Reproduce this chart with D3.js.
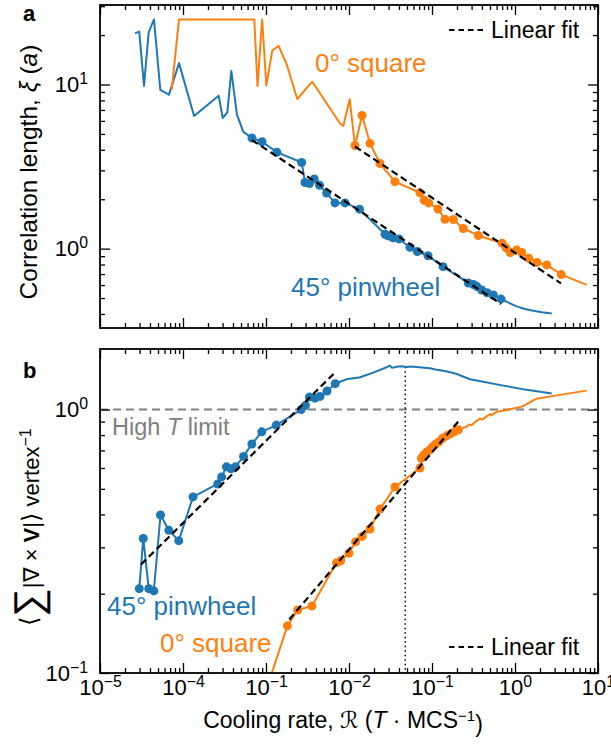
<!DOCTYPE html>
<html>
<head>
<meta charset="utf-8">
<script src="https://cdn.jsdelivr.net/npm/d3@7"></script>
<style>
  body { margin: 0; background: #fff; }
  text { font-family: "Liberation Sans", Arial, Helvetica, sans-serif; }
</style>
</head>
<body>
<div id="chart"></div>
<script>
// ---- data ----
// x axis ticks (the third label really reads 10^-1 in the original)
var xMajor = [1e-5, 1e-4, 1e-3, 1e-2, 1e-1, 1e0, 1e1];
var xTickExp = ["\u22125", "\u22124", "\u22121", "\u22122", "\u22121", "0", "1"];

// panel a: correlation length
var blueXiHead = [[2.64e-5, 20.5], [2.97e-5, 21.0], [3.39e-5, 9.8], [3.86e-5, 20.8], [4.47e-5, 24.9],
  [5.33e-5, 9.26], [6.78e-5, 8.67], [8.95e-5, 13.5], [1.36e-4, 6.43], [2.69e-4, 8.55], [3.01e-4, 6.25],
  [3.42e-4, 6.77], [3.82e-4, 12.1], [4.47e-4, 6.55], [5.33e-4, 5.14]];
var blueXiPts = [[6.78e-4, 4.72], [8.95e-4, 4.48], [1.35e-3, 3.87], [2.69e-3, 3.35], [2.95e-3, 2.53],
  [3.34e-3, 2.49], [3.82e-3, 2.66], [4.42e-3, 2.43], [5.38e-3, 2.18], [6.78e-3, 1.90], [8.95e-3, 1.90],
  [0.0134, 1.74], [0.0272, 1.224], [0.0295, 1.195], [0.0339, 1.162], [0.040, 1.146], [0.0543, 1.02],
  [0.0665, 0.961], [0.0895, 0.905], [0.136, 0.777], [0.2735, 0.618], [0.316, 0.605], [0.348, 0.587],
  [0.397, 0.560], [0.461, 0.539], [0.548, 0.522], [0.678, 0.494]];
var blueXiTail = [[0.871, 0.464], [1.05, 0.445], [1.32, 0.429], [1.66, 0.419], [2.11, 0.410], [2.77, 0.403]];
var blueXiFit = [[6.78e-4, 4.59], [0.678, 0.460]];

var orangeXiHead = [[7.31e-5, 9.26], [8.95e-5, 24.9], [7.23e-4, 24.9], [7.90e-4, 9.79], [8.99e-4, 24.9],
  [1.01e-3, 9.86], [1.19e-3, 16.1], [1.42e-3, 17.2], [1.79e-3, 13.1], [2.38e-3, 8.16], [3.61e-3, 10.4],
  [7.80e-3, 5.79], [8.53e-3, 5.59], [0.0102, 8.13]];
var orangeXiPts = [[0.0118, 4.25], [0.01436, 6.47], [0.0179, 4.38], [0.0236, 3.30], [0.0358, 2.56],
  [0.0716, 2.19], [0.0805, 1.97], [0.0912, 1.90], [0.118, 1.745], [0.1435, 1.51], [0.181, 1.506],
  [0.238, 1.327], [0.361, 1.203], [0.702, 1.079], [0.780, 1.01], [0.877, 0.948], [1.048, 0.982],
  [1.205, 0.948], [1.462, 0.874], [1.841, 0.824], [2.41, 0.796], [3.61, 0.695]];
var orangeXiTail = [[7.31, 0.601]];
var orangeXiFit = [[0.0118, 4.19], [3.58, 0.614]];

// panel b: vorticity per vertex
var blueVPts = [[2.97e-5, 0.209], [3.32e-5, 0.324], [3.87e-5, 0.209], [4.45e-5, 0.205], [5.36e-5, 0.398],
  [6.75e-5, 0.348], [8.89e-5, 0.318], [1.32e-4, 0.466], [2.62e-4, 0.522], [2.92e-4, 0.555],
  [3.34e-4, 0.606], [3.78e-4, 0.596], [4.29e-4, 0.606], [5.36e-4, 0.664], [6.75e-4, 0.740],
  [8.89e-4, 0.823], [1.33e-3, 0.873], [2.65e-3, 1.0], [2.99e-3, 1.037], [3.33e-3, 1.115],
  [3.89e-3, 1.105], [4.48e-3, 1.122], [5.43e-3, 1.175], [6.83e-3, 1.254]];
var blueVTail = [[9.37e-3, 1.304], [0.0136, 1.327], [0.0196, 1.381], [0.0284, 1.447], [0.031, 1.47],
  [0.033, 1.44], [0.0376, 1.455], [0.043, 1.46], [0.0495, 1.452], [0.056, 1.458], [0.0655, 1.452],
  [0.075, 1.445], [0.0946, 1.435], [0.11, 1.42], [0.1368, 1.405], [0.16, 1.39], [0.1987, 1.365],
  [0.287, 1.304], [0.415, 1.276], [0.723, 1.233], [1.383, 1.188], [2.77, 1.15]];
var blueVFit = [[3.12e-5, 0.258], [6.65e-3, 1.374]];

var orangeVHead = [[1.15e-3, 0.098]];
var orangeVPts = [[1.81e-3, 0.151], [2.41e-3, 0.1735], [3.58e-3, 0.1797], [7.06e-3, 0.262], [7.94e-3, 0.2665],
  [0.01, 0.285], [0.012, 0.3147], [0.0144, 0.330], [0.0179, 0.352], [0.0236, 0.419], [0.0358, 0.508],
  [0.0716, 0.600], [0.0746, 0.654], [0.0802, 0.674], [0.0871, 0.692], [0.0946, 0.704], [0.1014, 0.722],
  [0.110, 0.738], [0.1213, 0.755], [0.134, 0.778], [0.1496, 0.795], [0.167, 0.809], [0.1866, 0.823],
  [0.2075, 0.838]];
var orangeVTail = [[0.235, 0.85], [0.262, 0.862], [0.28, 0.878], [0.30, 0.872], [0.346, 0.908],
  [0.38, 0.925], [0.40, 0.915], [0.456, 0.942], [0.50, 0.962], [0.52, 0.952], [0.603, 0.980],
  [0.70, 0.99], [0.794, 0.997], [1.214, 1.026], [1.824, 1.10], [3.18, 1.132], [7.31, 1.18]];
var orangeVFit = [[1.91e-3, 0.1597], [0.2075, 0.901]];

var highTLimit = 1.0;
var peakRate = 0.0476;
var peakValue = 1.455;

// ---- layout ----
var svgWidth = 611;
var svgHeight = 744;
var left = 100;
var width = 498;
var topA = 5, heightA = 323;
var topB = 349, heightB = 324;

var blue = "#1f77b4";
var orange = "#ff7f0e";

var svg = d3.select("#chart")
  .append("svg")
  .attr("width", svgWidth)
  .attr("height", svgHeight);

var x = d3.scaleLog().domain([1e-5, 10]).range([0, width]);
var yA = d3.scaleLog().domain([0.3285, 30.5]).range([heightA, 0]);
var yB = d3.scaleLog().domain([0.1, 1.698]).range([heightB, 0]);

function minorTicks(lo, hi) {
  var out = [];
  for (var e = Math.floor(Math.log10(lo)); e <= Math.ceil(Math.log10(hi)); e++) {
    for (var m = 2; m <= 9; m++) {
      var v = m * Math.pow(10, e);
      if (v >= lo && v <= hi) out.push(v);
    }
  }
  return out;
}

// "10" with a superscript exponent
function supText(ag, exps) {
  ag.attr("font-size", 22)
    .attr("font-family", "'Liberation Sans', Arial, sans-serif");
  ag.selectAll(".tick text").each(function(d, i) {
    var t = d3.select(this).text(null).attr("fill", "#000");
    t.append("tspan").text("10");
    t.append("tspan").attr("dy", "-0.5em").attr("font-size", "0.72em").text(exps[i]);
  });
}

function drawAxes(g, y, h, yMajor, yExp, showX) {
  var xMinor = minorTicks(1e-5, 10);
  var yMinor = minorTicks(y.domain()[0], y.domain()[1]);
  var axes = [
    [d3.axisBottom(x), "translate(0," + h + ")", xMajor, xMinor, showX ? xTickExp : null, 6],
    [d3.axisTop(x), null, xMajor, xMinor, null, 0],
    [d3.axisLeft(y), null, yMajor, yMinor, yExp, 12],
    [d3.axisRight(y), "translate(" + width + ",0)", yMajor, yMinor, null, 0]
  ];
  axes.forEach(function(a) {
    // minor ticks, inward
    var mg = g.append("g")
      .attr("transform", a[1])
      .call(a[0].tickValues(a[3]).tickSize(-5).tickSizeOuter(0).tickFormat(""));
    mg.select(".domain").remove();
    mg.selectAll(".tick line").attr("stroke-width", 1.3);

    // major ticks, inward, labels where needed
    var fmt = a[4] ? (d => d) : "";
    var ag = g.append("g")
      .attr("transform", a[1])
      .call(a[0].tickValues(a[2]).tickSize(-10).tickSizeOuter(0).tickPadding(a[5]).tickFormat(fmt));
    ag.select(".domain").remove();
    ag.selectAll(".tick line").attr("stroke-width", 1.3);
    if (a[4]) supText(ag, a[4]);
  });
  g.append("rect")
    .attr("width", width)
    .attr("height", h)
    .attr("fill", "none")
    .attr("stroke", "#000")
    .attr("stroke-width", 1.8);
}

function drawSeries(g, y, line, pts, color, clipId) {
  var lineGen = d3.line().x(d => x(d[0])).y(d => y(d[1]));
  g.append("path")
    .attr("clip-path", "url(#" + clipId + ")")
    .attr("d", lineGen(line))
    .attr("fill", "none")
    .attr("stroke", color)
    .attr("stroke-width", 2)
    .attr("stroke-linejoin", "round");
  g.selectAll(null)
    .data(pts)
    .enter()
    .append("circle")
    .attr("cx", d => x(d[0]))
    .attr("cy", d => y(d[1]))
    .attr("r", 4.5)
    .attr("fill", color);
}

function drawFit(g, y, fit) {
  g.append("line")
    .attr("x1", x(fit[0][0])).attr("y1", y(fit[0][1]))
    .attr("x2", x(fit[1][0])).attr("y2", y(fit[1][1]))
    .attr("stroke", "#000")
    .attr("stroke-width", 2.2)
    .attr("stroke-dasharray", "7,4");
}

function legendFit(g, ly) {
  g.append("line")
    .attr("x1", 349).attr("x2", 383)
    .attr("y1", ly).attr("y2", ly)
    .attr("stroke", "#000").attr("stroke-width", 2)
    .attr("stroke-dasharray", "5.5,4");
  g.append("text")
    .attr("x", 391).attr("y", ly + 8)
    .attr("font-size", 23)
    .text("Linear fit");
}

function label(g, tx, ty, txt, color) {
  g.append("text")
    .attr("x", tx).attr("y", ty)
    .attr("font-size", 26)
    .attr("fill", color)
    .text(txt);
}

// ---- panel a ----
var gA = svg.append("g").attr("transform", `translate(${left}, ${topA})`);
gA.append("clipPath").attr("id", "clipA").append("rect").attr("width", width).attr("height", heightA);

drawSeries(gA, yA, blueXiHead.concat(blueXiPts, blueXiTail), blueXiPts, blue, "clipA");
drawSeries(gA, yA, orangeXiHead.concat(orangeXiPts, orangeXiTail), orangeXiPts, orange, "clipA");
drawFit(gA, yA, blueXiFit);
drawFit(gA, yA, orangeXiFit);
drawAxes(gA, yA, heightA, [1, 10], ["0", "1"], false);

legendFit(gA, 25);
label(gA, 215, 67, "0\u00b0 square", orange);
label(gA, 191, 291, "45\u00b0 pinwheel", blue);

// ---- panel b ----
var gB = svg.append("g").attr("transform", `translate(${left}, ${topB})`);
gB.append("clipPath").attr("id", "clipB").append("rect").attr("width", width).attr("height", heightB);

gB.append("line")
  .attr("x1", 0).attr("x2", width)
  .attr("y1", yB(highTLimit)).attr("y2", yB(highTLimit))
  .attr("stroke", "#808080").attr("stroke-width", 2)
  .attr("stroke-dasharray", "8,5");
gB.append("line")
  .attr("x1", x(peakRate)).attr("x2", x(peakRate))
  .attr("y1", yB(peakValue)).attr("y2", heightB)
  .attr("stroke", "#000").attr("stroke-width", 1.5)
  .attr("stroke-dasharray", "1.5,3");

drawSeries(gB, yB, blueVPts.concat(blueVTail), blueVPts, blue, "clipB");
drawSeries(gB, yB, orangeVHead.concat(orangeVPts, orangeVTail), orangeVPts, orange, "clipB");
drawFit(gB, yB, blueVFit);
drawFit(gB, yB, orangeVFit);
drawAxes(gB, yB, heightB, [0.1, 1], ["\u22121", "0"], true);

legendFit(gB, 298);
var ht = gB.append("text").attr("x", 12).attr("y", 86).attr("font-size", 23.5).attr("fill", "#808080");
ht.append("tspan").text("High ");
ht.append("tspan").attr("font-style", "italic").text("T");
ht.append("tspan").text(" limit");
label(gB, 7, 266, "45\u00b0 pinwheel", blue);
label(gB, 60, 303, "0\u00b0 square", orange);

// ---- panel letters and axis titles ----
svg.append("text").attr("x", 23).attr("y", 21).attr("font-size", 22).attr("font-weight", "bold").text("a");
svg.append("text").attr("x", 23).attr("y", 378).attr("font-size", 22).attr("font-weight", "bold").text("b");

var yt = svg.append("text")
  .attr("transform", "translate(37, 172) rotate(-90)")
  .attr("text-anchor", "middle")
  .attr("font-size", 24.5);
yt.append("tspan").text("Correlation length, ");
yt.append("tspan").attr("font-style", "italic").text("\u03be");
yt.append("tspan").text(" (");
yt.append("tspan").attr("font-style", "italic").text("a");
yt.append("tspan").text(")");

var yb = svg.append("text")
  .attr("transform", "translate(37, 527) rotate(-90)")
  .attr("text-anchor", "middle")
  .attr("font-size", 22);
yb.append("tspan").attr("font-size", 24).attr("font-family", "'DejaVu Sans', sans-serif").attr("font-weight", 200).text("\u27e8");
yb.append("tspan").attr("font-size", 40).attr("dy", "0.12em").text("\u2211");
yb.append("tspan").attr("dy", "-0.12em").attr("font-size", 22).text("|\u2207 \u00d7 ");
yb.append("tspan").attr("font-weight", "bold").text("V");
yb.append("tspan").text("|");
yb.append("tspan").attr("font-size", 24).attr("font-family", "'DejaVu Sans', sans-serif").text("\u27e9");
yb.append("tspan").text(" vertex");
yb.append("tspan").attr("dy", "-0.5em").attr("font-size", 16).text("\u22121");

var xt = svg.append("text")
  .attr("x", 343)
  .attr("y", 728)
  .attr("text-anchor", "middle")
  .attr("font-size", 23);
xt.append("tspan").text("Cooling rate, ");
xt.append("tspan").attr("font-family", "'DejaVu Sans', sans-serif").text("\u211b");
xt.append("tspan").text(" (");
xt.append("tspan").attr("font-style", "italic").text("T");
xt.append("tspan").text(" \u00b7 MCS");
xt.append("tspan").attr("dy", "-0.5em").attr("font-size", 15).text("\u22121");
xt.append("tspan").attr("dy", "0.5em").text(")");
</script>
</body>
</html>
